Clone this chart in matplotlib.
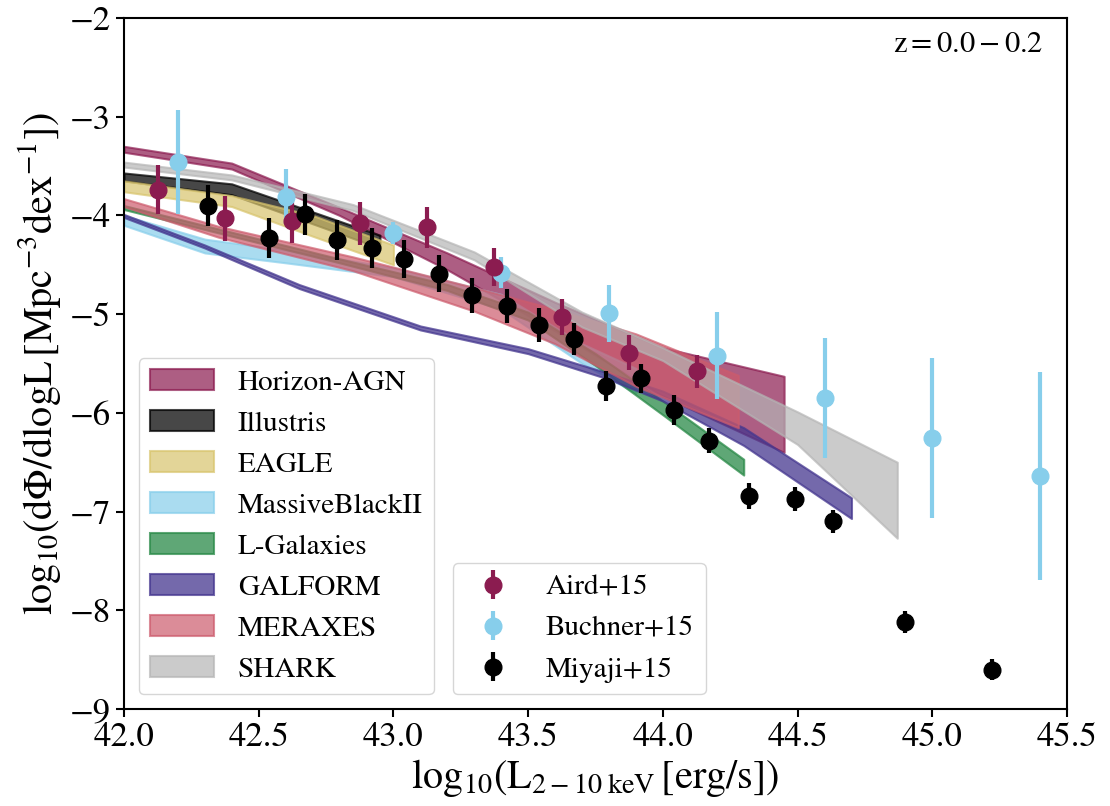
import numpy as np
import matplotlib
matplotlib.use('Agg')
import matplotlib.pyplot as plt
from matplotlib.patches import Patch

plt.rcParams['font.family'] = 'STIXGeneral'
plt.rcParams['mathtext.fontset'] = 'stix'

# model bands: x grid, upper and lower edge of log10 phi
horizon_x = [42.0, 42.4, 42.8, 43.2, 43.6, 44.0, 44.45]
horizon_hi = [-3.30, -3.47, -3.92, -4.38, -4.88, -5.34, -5.63]
horizon_lo = [-3.36, -3.53, -4.00, -4.55, -5.17, -5.83, -6.40]

illustris_x = [42.0, 42.4, 42.95]
illustris_hi = [-3.57, -3.68, -4.20]
illustris_lo = [-3.65, -3.79, -4.33]

eagle_x = [42.0, 42.4, 42.7, 43.0]
eagle_hi = [-3.65, -3.80, -4.00, -4.30]
eagle_lo = [-3.76, -3.91, -4.21, -4.50]

mbii_x = [42.0, 42.3, 42.6, 43.0, 43.4, 43.7, 43.9]
mbii_hi = [-4.00, -4.24, -4.35, -4.53, -4.80, -5.30, -5.55]
mbii_lo = [-4.10, -4.38, -4.48, -4.62, -4.95, -5.50, -5.80]

lgal_x = [42.0, 42.4, 42.8, 43.2, 43.5, 43.75, 44.0, 44.3]
lgal_hi = [-3.90, -4.17, -4.44, -4.70, -4.98, -5.40, -5.88, -6.47]
lgal_lo = [-3.94, -4.21, -4.48, -4.76, -5.06, -5.52, -6.02, -6.63]

galform_x = [42.0, 42.3, 42.65, 43.1, 43.5, 43.8, 44.0, 44.3, 44.7]
galform_hi = [-3.99, -4.30, -4.70, -5.12, -5.35, -5.60, -5.78, -6.15, -6.86]
galform_lo = [-4.02, -4.33, -4.74, -5.16, -5.40, -5.66, -5.88, -6.33, -7.07]

meraxes_x = [42.0, 42.35, 42.85, 43.3, 43.6, 43.9, 44.28]
meraxes_hi = [-3.83, -4.11, -4.42, -4.73, -4.95, -5.20, -5.62]
meraxes_lo = [-3.91, -4.22, -4.56, -4.97, -5.30, -5.73, -6.15]

shark_x = [42.0, 42.4, 42.85, 43.3, 43.7, 44.0, 44.5, 44.87]
shark_hi = [-3.46, -3.59, -3.89, -4.37, -4.98, -5.34, -5.99, -6.50]
shark_lo = [-3.51, -3.64, -3.95, -4.45, -5.13, -5.47, -6.32, -7.27]

# observations
aird_x = [42.125, 42.375, 42.625, 42.875, 43.125, 43.375, 43.625, 43.875, 44.125]
aird_y = [-3.74, -4.03, -4.06, -4.08, -4.12, -4.52, -5.03, -5.39, -5.58]
aird_err = [0.25, 0.23, 0.22, 0.22, 0.21, 0.19, 0.18, 0.18, 0.17]

buchner_x = [42.2, 42.6, 43.0, 43.4, 43.8, 44.2, 44.6, 45.0, 45.4]
buchner_y = [-3.46, -3.81, -4.18, -4.58, -4.99, -5.42, -5.85, -6.25, -6.64]
buchner_err = [0.53, 0.28, 0.11, 0.16, 0.29, 0.44, 0.61, 0.81, 1.05]

miyaji_x = [42.31, 42.54, 42.67, 42.79, 42.92, 43.04, 43.17, 43.29, 43.42, 43.54,
            43.67, 43.79, 43.92, 44.04, 44.17, 44.32, 44.49, 44.63, 44.90, 45.22]
miyaji_y = [-3.90, -4.23, -3.99, -4.25, -4.33, -4.44, -4.59, -4.81, -4.92, -5.11,
            -5.25, -5.73, -5.65, -5.97, -6.28, -6.84, -6.87, -7.10, -8.12, -8.60]
miyaji_err = [0.21, 0.20, 0.21, 0.20, 0.20, 0.19, 0.19, 0.18, 0.17, 0.17,
              0.16, 0.15, 0.15, 0.15, 0.13, 0.13, 0.12, 0.12, 0.11, 0.11]

models = [
    ('Horizon-AGN', horizon_x, horizon_lo, horizon_hi, '#8B1A4F', 0.7),
    ('Illustris', illustris_x, illustris_lo, illustris_hi, '#000000', 0.72),
    ('EAGLE', eagle_x, eagle_lo, eagle_hi, '#D8C46C', 0.7),
    ('MassiveBlackII', mbii_x, mbii_lo, mbii_hi, '#87CEEB', 0.7),
    ('L-Galaxies', lgal_x, lgal_lo, lgal_hi, '#2A8A48', 0.75),
    ('GALFORM', galform_x, galform_lo, galform_hi, '#45378F', 0.75),
    ('MERAXES', meraxes_x, meraxes_lo, meraxes_hi, '#CD5B6C', 0.7),
    ('SHARK', shark_x, shark_lo, shark_hi, '#B5B5B5', 0.7),
]

fig = plt.figure(figsize=(11.1, 8.06), dpi=100)
ax = fig.add_axes([0.1117, 0.1203, 0.8496, 0.8574])

band_handles = []
for name, x, lo, hi, c, a in models:
    ax.fill_between(x, lo, hi, color=c, alpha=a, lw=1.5)
    band_handles.append(Patch(facecolor=c, edgecolor=c, alpha=a, lw=1.5, label=name))

eb_kw = dict(fmt='o', ms=12, elinewidth=3, capsize=0, zorder=5)
h_buchner = ax.errorbar(buchner_x, buchner_y, yerr=buchner_err, color='#87CEEB',
                        label='Buchner+15', **eb_kw)
h_aird = ax.errorbar(aird_x, aird_y, yerr=aird_err, color='#8B1C50',
                     label='Aird+15', **eb_kw)
h_miyaji = ax.errorbar(miyaji_x, miyaji_y, yerr=miyaji_err, color='black',
                       label='Miyaji+15', **eb_kw)

ax.set_xlim(42.0, 45.5)
ax.set_ylim(-9, -2)
ax.set_xticks(np.arange(42.0, 45.51, 0.5))
ax.set_xticklabels(['%.1f' % v for v in np.arange(42.0, 45.51, 0.5)])
ax.set_yticks(range(-9, -1))
ax.tick_params(labelsize=25, length=6, width=1.5)
for s in ax.spines.values():
    s.set_linewidth(1.5)

ax.set_xlabel(r'$\rm log_{10}(L_{2-10\;keV}\,[erg/s])$', fontsize=29, labelpad=2)
ax.set_ylabel(r'$\rm log_{10}(d\Phi/dlogL\,[Mpc^{-3}dex^{-1}])$', fontsize=29, labelpad=4)

ax.text(0.9745, 0.961, r'$\rm z = 0.0 - 0.2$', transform=ax.transAxes,
        ha='right', va='center', fontsize=22)

leg1 = ax.legend(handles=band_handles, loc='lower left', fontsize=21,
                 handlelength=2.2, bbox_to_anchor=(0.0, 0.0))
ax.add_artist(leg1)
ax.legend(handles=[h_aird, h_buchner, h_miyaji], loc='lower left', fontsize=21,
          bbox_to_anchor=(0.333, 0.0))

fig.savefig('out.png', dpi=100)
